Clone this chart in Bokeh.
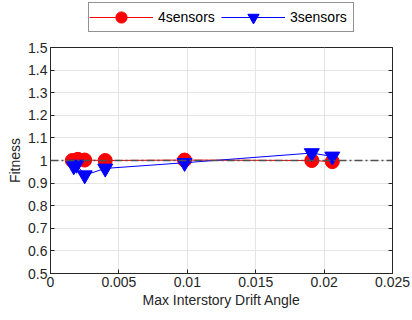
from bokeh.plotting import figure
from bokeh.models import Legend, LegendItem, LinearAxis, Span, FixedTicker, Range1d
from bokeh.layouts import column
from bokeh.embed import file_html
from bokeh.resources import INLINE

x_ticks = [0, 0.005, 0.01, 0.015, 0.02, 0.025]
x_tick_labels = ["0", "0.005", "0.01", "0.015", "0.02", "0.025"]
y_ticks = [0.5, 0.6, 0.7, 0.8, 0.9, 1.0, 1.1, 1.2, 1.3, 1.4, 1.5]
y_tick_labels = ["0.5", "0.6", "0.7", "0.8", "0.9", "1", "1.1", "1.2", "1.3", "1.4", "1.5"]

series_names = ["4sensors", "3sensors"]
x4 = [0.0016, 0.0020, 0.0025, 0.0040, 0.0098, 0.0191, 0.0206]
y4 = [1.000, 1.005, 1.002, 1.000, 1.002, 1.000, 0.995]
x3 = [0.0017, 0.0019, 0.0025, 0.0040, 0.0098, 0.0191, 0.0206]
y3 = [0.975, 0.982, 0.935, 0.965, 0.990, 1.033, 1.018]
ref_y = 1.0

FONT = "Liberation Sans"
TXT = "#262626"

# ---------- main plot ----------
p = figure(width=412, height=280, output_backend="svg", toolbar_location=None,
           x_range=Range1d(0, 0.025), y_range=Range1d(0.5, 1.5),
           min_border_left=50, min_border_right=20, min_border_bottom=47, min_border_top=7)
p.outline_line_color = TXT
p.outline_line_width = 1
p.background_fill_color = "white"
p.border_fill_color = "white"

for ax, ticks, labels in ((p.xaxis[0], x_ticks, x_tick_labels), (p.yaxis[0], y_ticks, y_tick_labels)):
    ax.ticker = FixedTicker(ticks=ticks)
    ax.major_label_overrides = {t: l for t, l in zip(ticks, labels)}
    ax.major_tick_in = 4
    ax.major_tick_out = 0
    ax.minor_tick_line_color = None
    ax.axis_line_color = TXT
    ax.major_tick_line_color = TXT
    ax.major_label_text_font = FONT
    ax.major_label_text_font_size = "14px"
    ax.major_label_text_color = TXT
    ax.axis_label_text_font = FONT
    ax.axis_label_text_font_size = "14px"
    ax.axis_label_text_font_style = "normal"
    ax.axis_label_text_color = TXT

p.xaxis.axis_label = "Max Interstory Drift Angle"
p.yaxis.axis_label = "Fitness"
p.xaxis.major_label_standoff = 3
p.yaxis.major_label_standoff = 3
p.xaxis.axis_label_standoff = 2
p.yaxis.axis_label_standoff = 2

p.xgrid.ticker = FixedTicker(ticks=x_ticks)
p.ygrid.ticker = FixedTicker(ticks=y_ticks)
p.grid.grid_line_color = "#e5e5e5"

r_ax = LinearAxis(ticker=FixedTicker(ticks=y_ticks), major_label_text_font_size="0px",
                  major_tick_in=4, major_tick_out=0, minor_tick_line_color=None,
                  axis_line_color=TXT, major_tick_line_color=TXT, major_label_standoff=0)
p.add_layout(r_ax, "right")

p.line(x4, y4, line_color="red", line_width=1)
p.scatter(x4, y4, marker="circle", size=14, fill_color="red", line_color="red")
p.line(x3, y3, line_color="blue", line_width=1)
p.scatter(x3, y3, marker="inverted_triangle", size=15, fill_color="blue", line_color="blue")

p.add_layout(Span(location=ref_y, dimension="width", line_color="#505050",
                  line_dash="8 3 2 3", line_width=1.5))

# ---------- legend strip (series drawn off-range, only legend visible) ----------
lg = figure(width=412, height=40, output_backend="svg", toolbar_location=None,
            x_range=Range1d(100, 101), y_range=Range1d(100, 101),
            min_border=0, outline_line_color=None)
lg.axis.visible = False
lg.grid.visible = False
lg.border_fill_color = "white"
el4 = lg.line(x4, y4, line_color="red", line_width=1)
em4 = lg.scatter(x4, y4, marker="circle", size=14, fill_color="red", line_color="red")
el3 = lg.line(x3, y3, line_color="blue", line_width=1)
em3 = lg.scatter(x3, y3, marker="inverted_triangle", size=15, fill_color="blue", line_color="blue")
legend = Legend(items=[LegendItem(label=series_names[0], renderers=[el4, em4]),
                       LegendItem(label=series_names[1], renderers=[el3, em3])],
                orientation="horizontal", location=(38, 8),
                label_text_font=FONT, label_text_font_size="14px", label_text_color="black",
                border_line_color=TXT, border_line_width=1,
                glyph_width=64, glyph_height=28, padding=0, spacing=0,
                label_standoff=5, label_width=63, margin=0)
lg.add_layout(legend, "center")

layout = column(lg, p, spacing=0)
open("out.html", "w").write(file_html(layout, INLINE))
